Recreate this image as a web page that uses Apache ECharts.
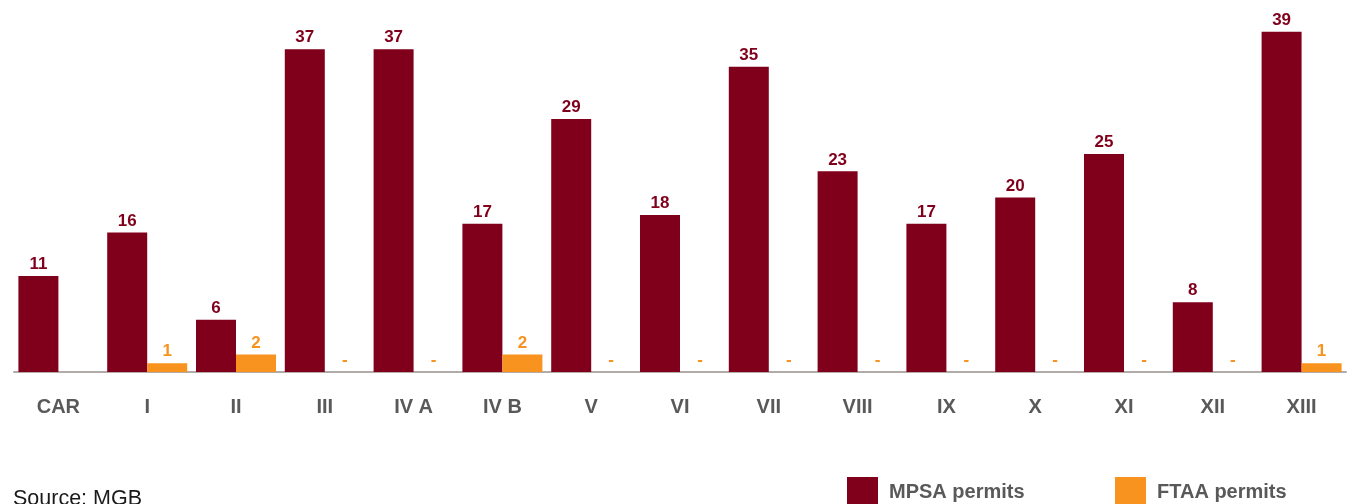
<!DOCTYPE html>
<html>
<head>
<meta charset="utf-8">
<script src="https://cdn.jsdelivr.net/npm/echarts@6/dist/echarts.min.js"></script>
<style>
  html, body { margin: 0; padding: 0; background: #ffffff; }
  #chart { width: 1357px; height: 504px; }
</style>
</head>
<body>
<div id="chart"></div>
<script>
// Mining permits by region
const regions = ['CAR', 'I', 'II', 'III', 'IV A', 'IV B', 'V', 'VI', 'VII', 'VIII', 'IX', 'X', 'XI', 'XII', 'XIII'];
const mpsaPermits = [11, 16, 6, 37, 37, 17, 29, 18, 35, 23, 17, 20, 25, 8, 39];
// null = no entry shown; 0 = shown as a dash
const ftaaPermits = [null, 1, 2, 0, 0, 2, 0, 0, 0, 0, 0, 0, 0, 0, 1];

const MPSA_COLOR = '#80001C';
const FTAA_COLOR = '#F7931E';
const FONT = '"Liberation Sans", Arial, Helvetica, sans-serif';

const chart = echarts.init(document.getElementById('chart'));

function valueLabel(color) {
  return {
    show: true,
    position: 'top',
    distance: 3,
    color: color,
    fontFamily: FONT,
    fontWeight: 'bold',
    fontSize: 17,
    formatter: p => (p.value === 0 ? '-' : String(p.value))
  };
}

function legendBox(name, left) {
  return {
    data: [name],
    left: left, top: 477, padding: 0,
    itemWidth: 31, itemHeight: 31,
    icon: 'rect',
    textStyle: { fontFamily: FONT, fontWeight: 'bold', fontSize: 20, color: '#595959', padding: [0, 0, 0, 6] }
  };
}

chart.setOption({
  animation: false,
  backgroundColor: '#ffffff',
  grid: { left: 14, right: 11, top: 23, bottom: 132 },
  title: {
    text: 'Source: MGB',
    left: 13,
    top: 488,
    padding: 0,
    textStyle: { fontFamily: FONT, fontWeight: 'normal', fontSize: 21.5, color: '#1a1a1a' }
  },
  legend: [
    legendBox('MPSA permits', 847),
    legendBox('FTAA permits', 1115)
  ],
  xAxis: {
    type: 'category',
    data: regions,
    axisLine: { show: true, lineStyle: { color: '#B3ABA7', width: 2 } },
    axisTick: { show: false },
    axisLabel: {
      margin: 25,
      fontFamily: FONT,
      fontWeight: 'bold',
      fontSize: 20,
      color: '#595959'
    }
  },
  yAxis: {
    type: 'value',
    min: 0,
    max: 40,
    show: false,
    splitLine: { show: false }
  },
  series: [
    {
      name: 'MPSA permits',
      type: 'bar',
      data: mpsaPermits,
      barWidth: 40,
      barGap: '0%',
      itemStyle: { color: MPSA_COLOR },
      label: valueLabel(MPSA_COLOR)
    },
    {
      name: 'FTAA permits',
      type: 'bar',
      data: ftaaPermits,
      barWidth: 40,
      barGap: '0%',
      itemStyle: { color: FTAA_COLOR },
      label: valueLabel(FTAA_COLOR)
    }
  ]
});
</script>
</body>
</html>
